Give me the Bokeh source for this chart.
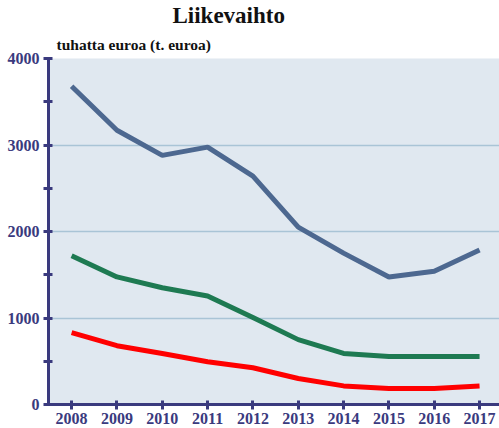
from bokeh.plotting import figure
from bokeh.models import FixedTicker, Title, Range1d
from bokeh.embed import file_html
from bokeh.resources import INLINE

years = [2008, 2009, 2010, 2011, 2012, 2013, 2014, 2015, 2016, 2017]
series_blue = [3680, 3170, 2880, 2975, 2640, 2050, 1750, 1475, 1540, 1785]
series_green = [1720, 1475, 1350, 1255, 1005, 750, 590, 555, 555, 555]
series_red = [830, 680, 590, 495, 425, 300, 215, 185, 185, 215]
y_ticks = [0, 1000, 2000, 3000, 4000]
y_minor = [500, 1500, 2500, 3500]

FONT = "Liberation Serif"
AXIS_COL = "#3a3a7e"

p = figure(width=499, height=426, output_backend="svg", toolbar_location=None,
           x_range=Range1d(2007.49, 2017.44), y_range=Range1d(0, 4000),
           min_border_left=48, min_border_right=0, min_border_top=0, min_border_bottom=0)

p.background_fill_color = "#e0e8f0"
p.border_fill_color = "white"
p.outline_line_color = None

sub = Title(text="tuhatta euroa (t. euroa)", text_font="'Liberation Serif', serif",
            text_font_size="15.5px", text_font_style="bold", text_color="#111111",
            align="left", offset=8, standoff=12)
p.add_layout(sub, "above")
main = Title(text="Liikevaihto", text_font=FONT, text_font_size="23px",
             text_font_style="bold", text_color="#111111", align="left", offset=124, standoff=0)
p.add_layout(main, "above")

p.line(years, series_blue, line_color="#4d6890", line_width=5)
p.line(years, series_green, line_color="#1e7a52", line_width=5)
p.line(years, series_red, line_color="#ff0000", line_width=5)

p.xaxis.ticker = FixedTicker(ticks=years)
p.yaxis.ticker = FixedTicker(ticks=y_ticks, minor_ticks=y_minor)

for ax in (p.xaxis, p.yaxis):
    ax.axis_line_color = AXIS_COL
    ax.axis_line_width = 3
    ax.major_tick_line_color = AXIS_COL
    ax.major_tick_line_width = 3
    ax.minor_tick_line_color = AXIS_COL
    ax.minor_tick_line_width = 3
    ax.major_tick_in = 4
    ax.major_tick_out = 5
    ax.minor_tick_in = 4
    ax.minor_tick_out = 5
    ax.major_label_text_font = FONT
    ax.major_label_text_font_size = "16px"
    ax.major_label_text_font_style = "bold"
    ax.major_label_text_color = AXIS_COL
p.xaxis.major_label_standoff = 3
p.yaxis.major_label_standoff = 4

p.xgrid.grid_line_color = None
p.ygrid.grid_line_color = "#a9c4d6"
p.ygrid.grid_line_width = 1.5

open("out.html", "w").write(file_html(p, INLINE))
